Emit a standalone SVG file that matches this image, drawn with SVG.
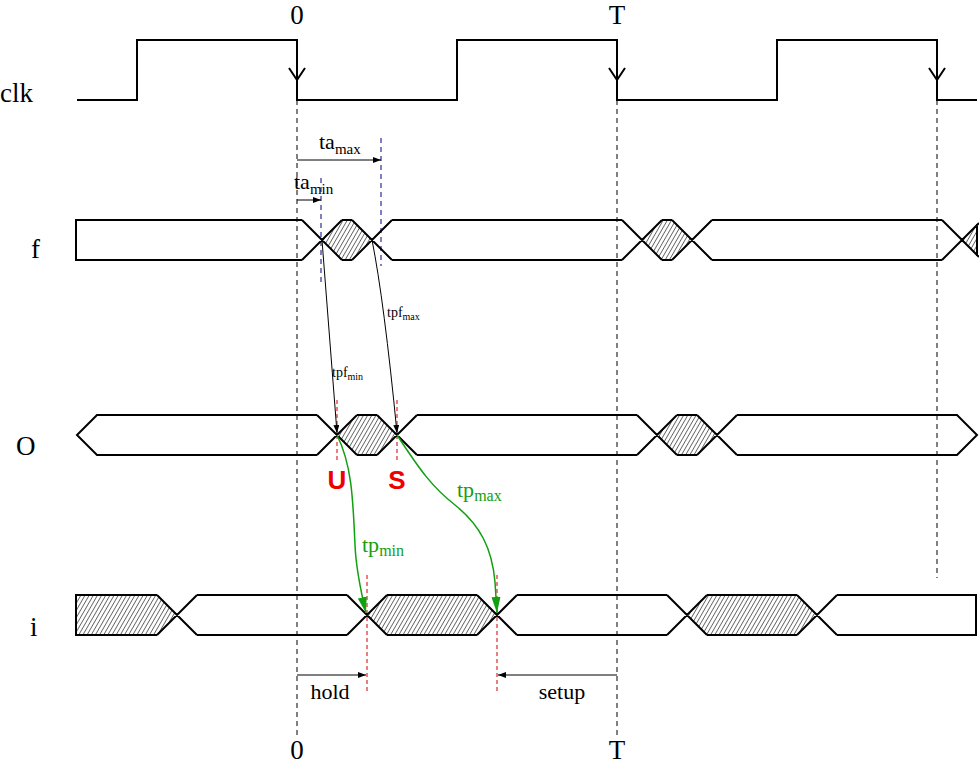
<svg xmlns="http://www.w3.org/2000/svg" width="979" height="765" viewBox="0 0 979 765">
<style>
.sig{fill:none;stroke:#000;stroke-width:2;stroke-linejoin:miter}
.hat{fill:url(#hatch);stroke:none}
.dash{fill:none;stroke:#000;stroke-width:1;stroke-dasharray:5,4}
.rdash{fill:none;stroke:#d00000;stroke-width:1;stroke-dasharray:4,3}
.ndash{fill:none;stroke:#000080;stroke-width:1;stroke-dasharray:5,4}
.thin{fill:none;stroke:#000;stroke-width:1}
.grn{fill:none;stroke:#10a010;stroke-width:1.5}
.t{font-family:"Liberation Serif","Times New Roman",serif;fill:#000}
.big{font-size:27px}
.mid{font-size:22px}
.sm{font-size:14px}
.g{fill:#10a010}
.red{font-family:"Liberation Sans",Arial,sans-serif;font-weight:bold;font-size:26px;fill:#ee0000}
</style>
<defs>
<pattern id="hatch" patternUnits="userSpaceOnUse" width="3.6" height="4" patternTransform="rotate(30)">
<line x1="0" y1="-1" x2="0" y2="5" stroke="#000" stroke-width="1.1"/>
</pattern>
<marker id="ah" viewBox="0 0 8 6" refX="8" refY="3" markerWidth="8" markerHeight="6" markerUnits="userSpaceOnUse" orient="auto">
<path d="M0,0 L8,3 L0,6 z" fill="#000"/>
</marker>
<marker id="ahg" viewBox="0 0 16 9" refX="16" refY="4.5" markerWidth="16" markerHeight="9" markerUnits="userSpaceOnUse" orient="auto">
<path d="M0,0 L16,4.5 L0,9 z" fill="#10a010"/>
</marker>
</defs>
<rect width="979" height="765" fill="#fff"/>

<g id="guides">
<path class="dash" d="M297,100 V737 M617,100 V737 M937,100 V578"/>
<path class="ndash" d="M321,178 V282 M381,138 V266"/>
<path class="rdash" d="M337,400 V463 M397,400 V463 M367,575 V692 M497,575 V692"/>
</g>

<g id="clk">
<polyline class="sig" points="77,100 137,100 137,40 297,40 297,100 457,100 457,40 617,40 617,100 777,100 777,40 937,40 937,100 977,100"/>
<path class="sig" d="M289,68 L297,80 L305,68 M609,68 L617,80 L625,68 M929,68 L937,80 L945,68"/>
<text class="t big" x="0" y="102">clk</text>
<text class="t big" x="297" y="24" text-anchor="middle">0</text>
<text class="t big" x="617" y="24" text-anchor="middle">T</text>
</g>

<g id="f">
<polygon class="hat" points="322,240 342,220 352,220 372,240 352,260 342,260"/>
<polygon class="hat" points="642,240 662,220 672,220 692,240 672,260 662,260"/>
<polygon class="hat" points="962,240 977,225 977,255"/>
<path class="sig" d="M302,220 H76 V260 H302 M302,220 L342,260 M302,260 L342,220 M342,220 H352 M342,260 H352 M352,220 L392,260 M352,260 L392,220 M392,220 H622 M392,260 H622 M622,220 L662,260 M622,260 L662,220 M662,220 H672 M662,260 H672 M672,220 L712,260 M672,260 L712,220 M712,220 H942 M712,260 H942 M942,220 L979,257 M942,260 L979,223 M977,224 V256"/>
<text class="t big" x="31" y="258">f</text>
</g>

<g id="O">
<polygon class="hat" points="337,435 357,415 377,415 397,435 377,455 357,455"/>
<polygon class="hat" points="657,435 677,415 697,415 717,435 697,455 677,455"/>
<path class="sig" d="M317,415 H97 L77,435 L97,455 H317 M317,415 L357,455 M317,455 L357,415 M357,415 H377 M357,455 H377 M377,415 L417,455 M377,455 L417,415 M417,415 H637 M417,455 H637 M637,415 L677,455 M637,455 L677,415 M677,415 H697 M677,455 H697 M697,415 L737,455 M697,455 L737,415 M737,415 H957 L977,435 L957,455 H737"/>
<text class="t big" x="16" y="455">O</text>
</g>

<g id="i">
<polygon class="hat" points="76,595 157,595 177,615 157,635 76,635"/>
<polygon class="hat" points="367,615 387,595 477,595 497,615 477,635 387,635"/>
<polygon class="hat" points="687,615 707,595 797,595 817,615 797,635 707,635"/>
<path class="sig" d="M157,595 H76 V635 H157 M157,595 L197,635 M157,635 L197,595 M197,595 H347 M197,635 H347 M347,595 L387,635 M347,635 L387,595 M387,595 H477 M387,635 H477 M477,595 L517,635 M477,635 L517,595 M517,595 H667 M517,635 H667 M667,595 L707,635 M667,635 L707,595 M707,595 H797 M707,635 H797 M797,595 L837,635 M797,635 L837,595 M837,595 H976 V635 H837"/>
<text class="t big" x="30" y="636">i</text>
</g>

<g id="connectors">
<line class="thin" x1="297" y1="160" x2="381" y2="160" marker-end="url(#ah)"/>
<line class="thin" x1="297" y1="200" x2="321" y2="200" marker-end="url(#ah)"/>
<path class="thin" d="M322,240 L337,433" marker-end="url(#ah)"/>
<path class="thin" d="M372,240 Q384,300 397,433" marker-end="url(#ah)"/>
<path class="grn" d="M337,435 C352,465 353,500 355,545 C356,570 361,592 366,613" marker-end="url(#ahg)"/>
<path class="grn" d="M397,435 C420,470 432,487 455,505 C480,525 492,548 495,582 L497,613" marker-end="url(#ahg)"/>
<line class="thin" x1="297" y1="675" x2="366" y2="675" marker-end="url(#ah)"/>
<line class="thin" x1="617" y1="675" x2="498" y2="675" marker-end="url(#ah)"/>
</g>

<g id="labels">
<text class="t mid" x="319" y="149">ta<tspan font-size="15" dy="5">max</tspan></text>
<text class="t mid" x="294" y="189">ta<tspan font-size="15" dy="5">min</tspan></text>
<text class="t sm" x="387" y="317">tpf<tspan font-size="10" dy="3">max</tspan></text>
<text class="t sm" x="332" y="377">tpf<tspan font-size="10" dy="3">min</tspan></text>
<text class="red" x="337" y="489" text-anchor="middle">U</text>
<text class="red" x="397" y="489" text-anchor="middle">S</text>
<text class="t mid g" x="457" y="497">tp<tspan font-size="16" dy="4">max</tspan></text>
<text class="t mid g" x="362" y="552">tp<tspan font-size="16" dy="4">min</tspan></text>
<text class="t mid" x="330" y="699" text-anchor="middle">hold</text>
<text class="t mid" x="562" y="699" text-anchor="middle">setup</text>
<text class="t big" x="297" y="759" text-anchor="middle">0</text>
<text class="t big" x="617" y="759" text-anchor="middle">T</text>
</g>
</svg>
